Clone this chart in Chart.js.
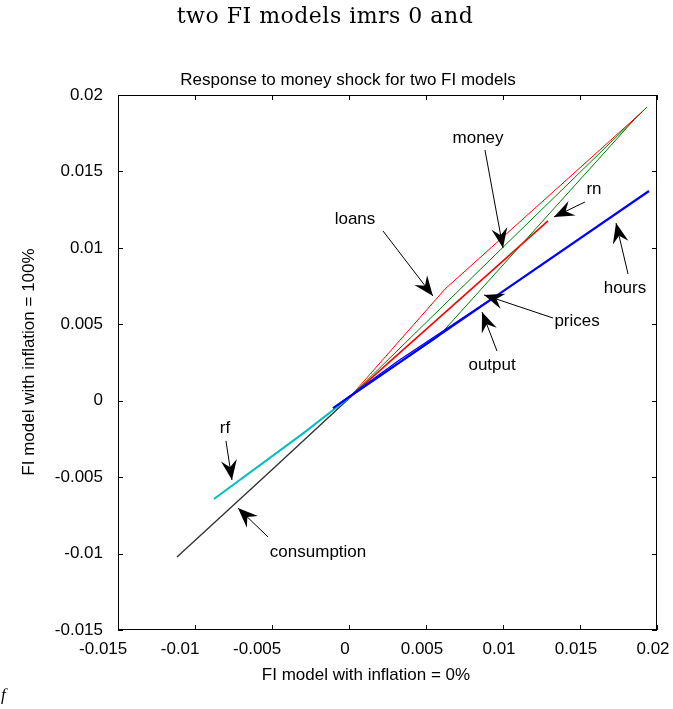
<!DOCTYPE html>
<html>
<head>
<meta charset="utf-8">
<script src="https://cdn.jsdelivr.net/npm/chart.js@4"></script>
<style>
  html, body { margin: 0; padding: 0; background: #fff; }
  canvas { display: block; }
</style>
</head>
<body>
<canvas id="phase" width="673" height="709"></canvas>
<script>
// Response to money shock, FI model with inflation 0% (x) vs 100% (y)

const xTicks = [-0.015, -0.01, -0.005, 0, 0.005, 0.01, 0.015, 0.02];
const yTicks = [-0.015, -0.01, -0.005, 0, 0.005, 0.01, 0.015, 0.02];

// each series: x = response in 0% model, y = response in 100% model
const consumptionX = [-0.01117, -0.0050, 0.00045];
const consumptionY = [-0.01023, -0.00452, 0.00057];
const rfX = [-0.00877, -0.0030, 0.00006];
const rfY = [-0.00643, -0.00215, 0.00024];
const hoursX = [-0.00104, 0.0090, 0.01948];
const hoursY = [-0.00048, 0.00647, 0.01372];
const outputX = [-0.00058, 0.00318, 0.0093];
const outputY = [-0.00015, 0.0026, 0.0067];
const pricesX = [0.00006, 0.00578, 0.0186, 0.01935];
const pricesY = [0.00024, 0.00417, 0.01848, 0.01921];
const moneyX = [0.00006, 0.0100, 0.01935];
const moneyY = [0.00024, 0.01004, 0.01921];
const loansX = [0.00006, 0.00623, 0.01903];
const loansY = [0.00024, 0.0073, 0.01889];
const rnX = [0.00006, 0.01292];
const rnY = [0.00024, 0.01176];

// annotation labels: [text, textX, textY, arrowFromX, arrowFromY, tipX, tipY]
const notes = [
  ['money', 0.00838, 0.01718, 0.00883, 0.01640, 0.01000, 0.00999],
  ['loans', 0.00039, 0.01189, 0.00221, 0.01110, 0.00545, 0.00685],
  ['rn', 0.01591, 0.01385, 0.01532, 0.01300, 0.01331, 0.01202],
  ['hours', 0.01792, 0.00737, 0.01812, 0.00829, 0.01734, 0.01162],
  ['prices', 0.01481, 0.00521, 0.01325, 0.00541, 0.00877, 0.00692],
  ['output', 0.00929, 0.00234, 0.00961, 0.00325, 0.00864, 0.00580],
  ['rf', -0.00805, -0.00178, -0.00799, -0.00263, -0.0076, -0.00519],
  ['consumption', -0.00201, -0.00991, -0.00526, -0.00891, -0.00721, -0.00702]
];

const SANS = '"Liberation Sans", Arial, sans-serif';
Chart.defaults.font.family = SANS;
Chart.defaults.color = '#000';

function pts(xs, ys) {
  return xs.map((x, i) => ({ x: x, y: ys[i] }));
}

function series(label, xs, ys, color, width) {
  return {
    label: label,
    data: pts(xs, ys),
    showLine: true,
    borderColor: color,
    backgroundColor: color,
    borderWidth: width,
    pointRadius: 0,
    tension: 0
  };
}

const datasets = [
  series('hours', hoursX, hoursY, '#0000ff', 2.2),
  series('output', outputX, outputY, '#0000ff', 1.2),
  series('rn', rnX, rnY, '#ff0000', 1.6),
  series('loans', loansX, loansY, '#ff0000', 1),
  series('money', moneyX, moneyY, '#008000', 1),
  series('prices', pricesX, pricesY, '#008000', 1),
  series('rf', rfX, rfY, '#00bfbf', 2),
  series('consumption', consumptionX, consumptionY, '#333333', 1.4)
];

function fmt(v) {
  return String(Number(v.toFixed(4)));
}

function arrowHead(c, x0, y0, x1, y1) {
  const a = Math.atan2(y1 - y0, x1 - x0);
  const L = 20, W = 8, N = 13;
  const ca = Math.cos(a), sa = Math.sin(a);
  const bx = x1 - L * ca, by = y1 - L * sa;
  c.beginPath();
  c.moveTo(x1, y1);
  c.lineTo(bx - W * sa, by + W * ca);
  c.lineTo(x1 - N * ca, y1 - N * sa);
  c.lineTo(bx + W * sa, by - W * ca);
  c.closePath();
  c.fill();
}

const decorations = {
  id: 'decorations',
  afterDatasetsDraw(chart) {
    const c = chart.ctx;
    const a = chart.chartArea;
    const sx = chart.scales.x, sy = chart.scales.y;
    c.save();
    // frame
    c.strokeStyle = '#000';
    c.lineWidth = 1;
    c.strokeRect(Math.round(a.left) + 0.5, Math.round(a.top) + 0.5,
      Math.round(a.right - a.left) - 1, Math.round(a.bottom - a.top) - 1);
    // inward ticks on all sides
    c.beginPath();
    xTicks.forEach(v => {
      const px = Math.round(sx.getPixelForValue(v)) + 0.5;
      c.moveTo(px, a.bottom); c.lineTo(px, a.bottom - 5);
      c.moveTo(px, a.top); c.lineTo(px, a.top + 5);
    });
    yTicks.forEach(v => {
      const py = Math.round(sy.getPixelForValue(v)) + 0.5;
      c.moveTo(a.left, py); c.lineTo(a.left + 5, py);
      c.moveTo(a.right, py); c.lineTo(a.right - 5, py);
    });
    c.stroke();

    // annotations
    c.fillStyle = '#000';
    c.strokeStyle = '#000';
    c.font = '17px ' + SANS;
    c.textAlign = 'center';
    c.textBaseline = 'middle';
    notes.forEach(n => {
      const tx = sx.getPixelForValue(n[1]), ty = sy.getPixelForValue(n[2]);
      c.fillText(n[0], tx, ty);
      const x0 = sx.getPixelForValue(n[3]), y0 = sy.getPixelForValue(n[4]);
      const x1 = sx.getPixelForValue(n[5]), y1 = sy.getPixelForValue(n[6]);
      c.beginPath();
      c.moveTo(x0, y0);
      c.lineTo(x1, y1);
      c.stroke();
      arrowHead(c, x0, y0, x1, y1);
    });

    // titles
    c.textBaseline = 'alphabetic';
    c.font = '17px ' + SANS;
    c.fillText('Response to money shock for two FI models', 348, 85);
    c.fillText('FI model with inflation = 0%', 366, 680);
    c.save();
    c.translate(34, 362);
    c.rotate(-Math.PI / 2);
    c.fillText('FI model with inflation = 100%', 0, 0);
    c.restore();

    // surrounding document text
    c.font = '22px "DejaVu Serif", serif';
    if ('letterSpacing' in c) c.letterSpacing = '0.5px';
    c.fillText('two FI models imrs 0 and', 325, 23);
    if ('letterSpacing' in c) c.letterSpacing = '0px';
    c.textAlign = 'left';
    c.font = 'italic 17px "Liberation Serif", serif';
    c.fillText('f', 1, 700);
    c.restore();
  }
};

new Chart(document.getElementById('phase'), {
  type: 'scatter',
  data: { datasets: datasets },
  options: {
    responsive: false,
    animation: false,
    layout: { padding: { top: 95, right: 16, bottom: 0, left: 0 } },
    plugins: {
      legend: { display: false },
      tooltip: { enabled: false }
    },
    scales: {
      x: {
        type: 'linear',
        min: -0.015,
        max: 0.02,
        grid: { display: false, drawTicks: false },
        border: { display: false },
        afterBuildTicks(s) { s.ticks = xTicks.map(v => ({ value: v })); },
        afterFit(s) { s.height = 79; s.paddingLeft = 0; s.paddingRight = 0; },
        ticks: {
          padding: 9,
          labelOffset: -4,
          font: { size: 17 },
          maxRotation: 0,
          callback: v => (v < 0 ? fmt(v) + '\u2003 ' : fmt(v))
        }
      },
      y: {
        type: 'linear',
        min: -0.015,
        max: 0.02,
        grid: { display: false, drawTicks: false },
        border: { display: false },
        afterBuildTicks(s) { s.ticks = yTicks.map(v => ({ value: v })); },
        afterFit(s) { s.width = 118; s.paddingTop = 0; s.paddingBottom = 0; },
        ticks: {
          padding: 15,
          font: { size: 17 },
          callback: v => fmt(v)
        }
      }
    }
  },
  plugins: [decorations]
});
</script>
</body>
</html>
